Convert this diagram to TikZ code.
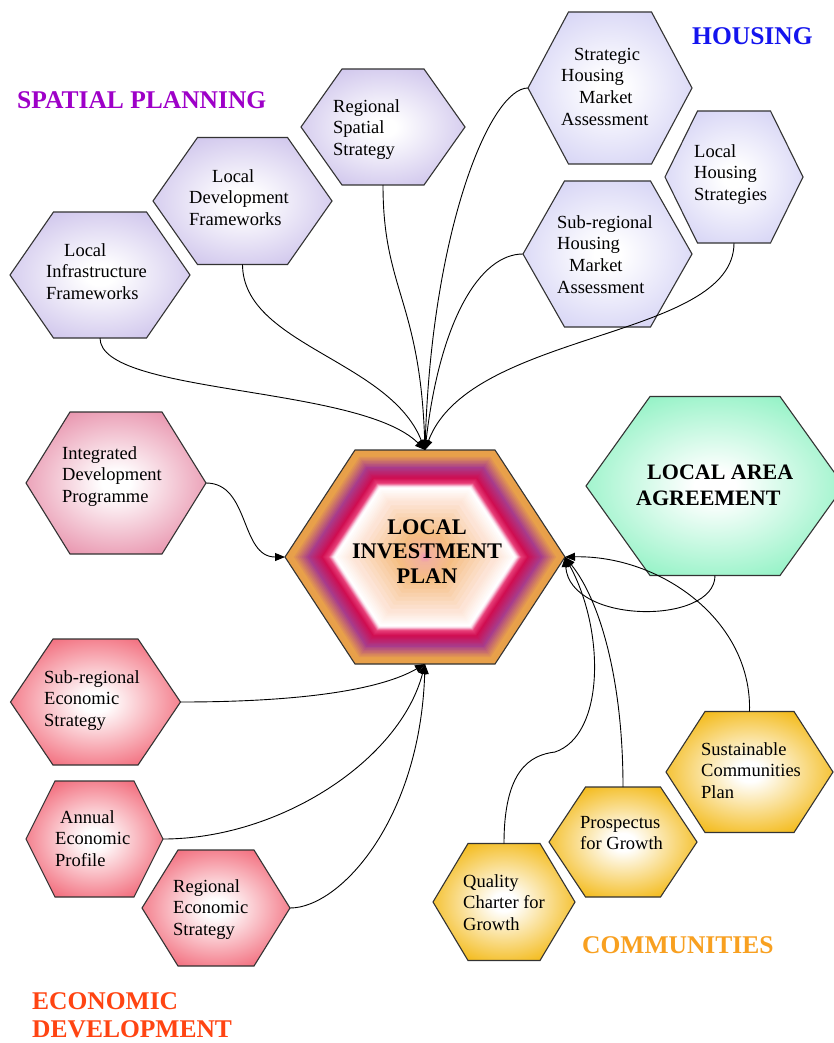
\documentclass[tikz,border=0pt]{standalone}
\usepackage{fontspec}
\setmainfont{Liberation Serif}
\usetikzlibrary{arrows.meta}
\definecolor{spcol}{HTML}{CFC5EC}
\definecolor{hocol}{HTML}{D6D4F5}
\definecolor{idcol}{HTML}{E892AC}
\definecolor{eccol}{HTML}{F26A7A}
\definecolor{cocol}{HTML}{F3B812}
\definecolor{lacol}{HTML}{90F2C4}
\definecolor{hexline}{HTML}{333333}
\definecolor{tspatial}{HTML}{9E00C8}
\definecolor{thousing}{HTML}{1414EE}
\definecolor{tecon}{HTML}{FF4412}
\definecolor{tcomm}{HTML}{F8A020}
\definecolor{lA}{HTML}{E8A04A}
\definecolor{lB}{HTML}{A83C8C}
\definecolor{lC}{HTML}{D00C50}
\definecolor{lD}{HTML}{E8407A}
\definecolor{lE}{HTML}{FBD8E8}
\definecolor{lF}{HTML}{FFFFFF}
\definecolor{lG}{HTML}{FDE4D6}
\definecolor{lH}{HTML}{F5BE82}
\definecolor{lI}{HTML}{F2B0A0}
\definecolor{lJ}{HTML}{F090B8}
\colorlet{hexcol}{white}
\pgfdeclareradialshading[hexcol]{hexshade}{\pgfpoint{0bp}{0bp}}{color(0bp)=(white); color(4bp)=(white); color(29bp)=(hexcol); color(50bp)=(hexcol)}
\newcommand\hexg[7]{%
  \colorlet{hexcol}{#7}%
  \shadedraw[shading=hexshade, draw=hexline, line width=1.1pt] (#2-#4,#3) -- (#2-#6,#3-#5) -- (#2+#6,#3-#5) -- (#2+#4,#3) -- (#2+#6,#3+#5) -- (#2-#6,#3+#5) -- cycle;
  \node[hexbox, minimum width={2*#4pt}, minimum height={2*#5pt}] (#1) at (#2,#3) {};
}
\newcommand\htext[4]{\node[htext] (#1) at (#2,#3-15.19) {\strut #4};}
\begin{document}
\begin{tikzpicture}[x=1pt,y=-1pt,
  hexbox/.style={rectangle, inner sep=0pt, outer sep=0pt, draw=none},
  htext/.style={anchor=north west, inner sep=0pt, align=left, font=\fontsize{18.5}{21.7}\selectfont, text=black},
  cat/.style={anchor=base west, inner sep=0pt, font=\bfseries\fontsize{25.5}{29}\selectfont},
  conn/.style={draw=black, line width=0.9pt, -{Triangle[length=10pt,width=8pt]}}]
\useasboundingbox (0,0) rectangle (834,1043);
\clip (0,0) rectangle (834,1043);
\fill[white] (0,0) rectangle (834,1043);

% spatial planning
\hexg{lif}{100}{275}{90}{63}{46.5}{spcol}
\hexg{ldf}{242.5}{201}{89.5}{63.5}{45}{spcol}
\hexg{rss}{383}{127}{82}{58}{41}{spcol}
% housing
\hexg{shma}{610}{88}{82}{76}{41.5}{hocol}
\hexg{lhs}{734}{177}{69}{66}{36.5}{hocol}
\hexg{srhma}{607.5}{254}{84.5}{73}{43}{hocol}
% IDP
\hexg{idp}{116}{483}{90}{71}{46}{idcol}
% LAA
\hexg{laa}{715}{486}{129}{89.5}{65}{lacol}
% economic
\hexg{sres}{95.5}{702}{85}{63}{42.5}{eccol}
\hexg{aep}{94.5}{839}{68.5}{58}{39.5}{eccol}
\hexg{res}{216}{908}{74}{58}{38}{eccol}
% communities
\hexg{scp}{749.5}{772}{83.5}{60.5}{44.5}{cocol}
\hexg{pfg}{623}{842}{74}{55}{37.5}{cocol}
\hexg{qcg}{504}{902}{71}{58.5}{36}{cocol}

% central hexagon
\foreach \ssa/\ssb/\cca/\ccb in {1.00/0.95/lA/lA, 0.95/0.84/lA/lB, 0.84/0.74/lB/lC, 0.74/0.69/lC/lD, 0.69/0.66/lD/lE, 0.66/0.645/lE/lF, 0.645/0.52/lF/lG, 0.52/0.22/lG/lH, 0.22/0.05/lH/lI, 0.05/0.0/lI/lJ}{
  \foreach \k in {0,...,7}{
    \pgfmathsetmacro\sc{\ssa-(\ssa-\ssb)*\k/8}
    \pgfmathtruncatemacro\pc{100-\k*100/8}
    \fill[\cca!\pc!\ccb] (425-140*\sc,557) -- (425-70*\sc,557-107*\sc) -- (425+70*\sc,557-107*\sc) -- (425+140*\sc,557) -- (425+70*\sc,557+107*\sc) -- (425-70*\sc,557+107*\sc) -- cycle;
  }
}
\draw[hexline, line width=1.1pt] (285,557) -- (355,450) -- (495,450) -- (565,557) -- (495,664) -- (355,664) -- cycle;
\node[hexbox, minimum width=280pt, minimum height=214pt] (lip) at (425,557) {};

% texts
\htext{lif-t}{46}{256}{\hspace*{18pt}Local\\Infrastructure\\Frameworks}
\htext{ldf-t}{189}{182}{\hspace*{23pt}Local\\Development\\Frameworks}
\htext{rss-t}{333}{112}{Regional\\Spatial\\Strategy}
\htext{shma-t}{561}{60}{\hspace*{13pt}Strategic\\Housing\\\hspace*{18pt}Market\\Assessment}
\htext{lhs-t}{694}{157}{Local\\Housing\\Strategies}
\htext{srhma-t}{557}{228}{Sub-regional\\Housing\\\hspace*{12pt}Market\\Assessment}
\htext{idp-t}{62}{459}{Integrated\\Development\\Programme}
\htext{sres-t}{44}{683}{Sub-regional\\Economic\\Strategy}
\htext{aep-t}{55}{823}{\hspace*{5pt}Annual\\Economic\\Profile}
\htext{res-t}{173}{892}{Regional\\Economic\\Strategy}
\htext{scp-t}{701}{755}{Sustainable\\Communities\\Plan}
\htext{pfg-t}{580}{828}{Prospectus\\for Growth}
\htext{qcg-t}{463}{887}{Quality\\Charter for\\Growth}

\node[anchor=north, inner sep=0pt, align=center, font=\bfseries\fontsize{22.3}{24.5}\selectfont] (lip-t) at (427,516.85) {\strut LOCAL\\INVESTMENT\\PLAN};
\node[anchor=north west, inner sep=0pt, align=left, font=\bfseries\fontsize{22}{26}\selectfont] (laa-t) at (636,460.8) {\strut\hspace*{11pt}LOCAL AREA\\AGREEMENT};

% category labels
\node[cat, text=tspatial] (cat-sp) at (17,109) {SPATIAL PLANNING};
\node[cat, text=thousing] (cat-ho) at (692,45) {HOUSING};
\node[cat, text=tcomm] (cat-co) at (582,953) {COMMUNITIES};
\node[anchor=north west, inner sep=0pt, align=left, text=tecon, font=\bfseries\fontsize{25.5}{28.5}\selectfont] (cat-ec) at (32,989) {\strut ECONOMIC\\DEVELOPMENT};

% connectors to top
\draw[conn] (lif.south) .. controls (100,395) and (360,385) .. (lip.north);
\draw[conn] (ldf.south) .. controls (243,345) and (390,360) .. (lip.north);
\draw[conn] (rss.south) .. controls (383,290) and (420,300) .. (lip.north);
\draw[conn] (shma.west) .. controls (490,88) and (432,230) .. (lip.north);
\draw[conn] (srhma.west) .. controls (480,254) and (440,320) .. (lip.north);
\draw[conn] (lhs.south) .. controls (734,340) and (470,330) .. (lip.north);
% left
\draw[conn] (idp.east) .. controls (250,483) and (240,557) .. (lip.west);
% bottom
\draw[conn] (sres.east) .. controls (300,702) and (380,690) .. (lip.south);
\draw[conn] (aep.east) .. controls (280,839) and (400,760) .. (lip.south);
\draw[conn] (res.east) .. controls (340,908) and (420,820) .. (lip.south);
% right
\draw[conn] (laa.south) .. controls (715,625) and (570,625) .. (lip.east);
\draw[conn] (scp.north) .. controls (752,620) and (660,555) .. (lip.east);
\draw[conn] (pfg.north) .. controls (623,680) and (600,600) .. (lip.east);
\draw[conn] (qcg.north) .. controls (504,770) and (530,755) .. (555,752) .. controls (605,735) and (605,630) .. (lip.east);
\end{tikzpicture}
\end{document}
